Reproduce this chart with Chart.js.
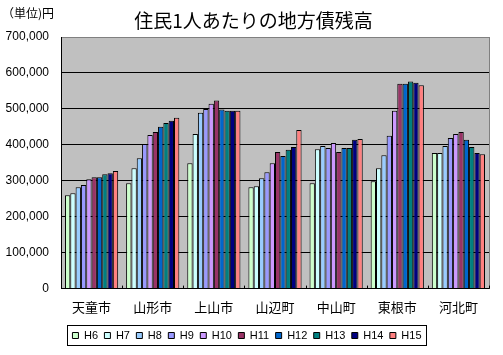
<!DOCTYPE html>
<html>
<head>
<meta charset="utf-8">
<script src="https://cdn.jsdelivr.net/npm/chart.js@4/dist/chart.umd.min.js"></script>
<style>
html,body{margin:0;padding:0;background:#fff;}
#wrap{width:503px;height:355px;}
</style>
</head>
<body>
<div id="wrap"><canvas id="c" width="503" height="355"></canvas></div>
<script>
const categories = ['天童市','山形市','上山市','山辺町','中山町','東根市','河北町'];
const seriesLabels = ['H6','H7','H8','H9','H10','H11','H12','H13','H14','H15'];
const H6  = [260000,293000,349000,282000,293000,299000,377000];
const H7  = [265000,335000,430000,285000,388000,335000,377000];
const H8  = [282000,363000,489000,307000,397000,371000,397000];
const H9  = [288000,402000,500000,324000,391000,425000,419000];
const H10 = [304000,427000,514000,349000,405000,495000,430000];
const H11 = [310000,436000,523000,380000,380000,570000,436000];
const H12 = [310000,450000,498000,369000,391000,570000,414000];
const H13 = [318000,461000,495000,386000,391000,576000,394000];
const H14 = [321000,467000,495000,394000,414000,573000,377000];
const H15 = [327000,475000,495000,441000,416000,566000,374000];
const seriesValues = [H6,H7,H8,H9,H10,H11,H12,H13,H14,H15];
const colors = ['#CCFFCC','#CCFFFF','#99CCFF','#9999FF','#CC99FF','#993366','#0066CC','#008080','#000080','#FF8080'];
const yTicks = [0,100000,200000,300000,400000,500000,600000,700000];
const titleText = '住民1人あたりの地方債残高';
const unitText = '（単位)円';

const latin = "'Liberation Sans', 'Noto Sans CJK JP', sans-serif";
const cjk = "'Noto Sans CJK JP', sans-serif";

const decor = {
  id: 'decor',
  beforeDraw(chart) {
    const {ctx, chartArea: a} = chart;
    ctx.save();
    ctx.fillStyle = '#C0C0C0';
    ctx.fillRect(a.left, a.top, a.right - a.left, a.bottom - a.top);
    ctx.restore();
  },
  afterDraw(chart) {
    const {ctx, chartArea: a} = chart;
    ctx.save();
    ctx.strokeStyle = '#808080';
    ctx.lineWidth = 1;
    ctx.beginPath();
    ctx.moveTo(Math.round(a.right) + 0.5, a.top);
    ctx.lineTo(Math.round(a.right) + 0.5, a.bottom);
    ctx.stroke();
    const xs = chart.scales.x;
    ctx.strokeStyle = '#000';
    for (let i = 0; i <= categories.length; i++) {
      let px;
      if (i === 0) px = a.left; else if (i === categories.length) px = a.right;
      else px = (xs.getPixelForValue(i - 1) + xs.getPixelForValue(i)) / 2;
      px = Math.round(px) + 0.5;
      ctx.beginPath();
      ctx.moveTo(px, a.bottom);
      ctx.lineTo(px, a.bottom - 3);
      ctx.stroke();
    }
    const lg = chart.legend;
    if (lg && lg.legendHitBoxes && lg.legendHitBoxes.length) {
      let l = Infinity, r = -Infinity, t = Infinity, b = -Infinity;
      lg.legendHitBoxes.forEach(h => {
        l = Math.min(l, h.left); r = Math.max(r, h.left + h.width);
        t = Math.min(t, h.top); b = Math.max(b, h.top + h.height);
      });
      ctx.strokeStyle = '#000';
      ctx.lineWidth = 1;
      ctx.strokeRect(Math.round(l - 5) + 0.5, Math.round(t - 5) + 0.5, Math.round(r - l + 10), Math.round(b - t + 9));
    }
    ctx.fillStyle = '#000';
    ctx.textBaseline = 'middle';
    ctx.textAlign = 'center';
    ctx.font = '19px ' + cjk;
    ctx.fillText(titleText, 253.5, 20.5);
    ctx.font = '12px ' + cjk;
    ctx.textAlign = 'left';
    ctx.fillText(unitText, 2, 13);
    ctx.restore();
  }
};

new Chart(document.getElementById('c'), {
  type: 'bar',
  data: {
    labels: categories,
    datasets: seriesLabels.map((s, i) => ({
      label: s,
      data: seriesValues[i],
      backgroundColor: colors[i],
      borderColor: '#000',
      borderWidth: 1,
      categoryPercentage: 0.87,
      barPercentage: 1.0
    }))
  },
  options: {
    responsive: false,
    animation: false,
    devicePixelRatio: 1,
    layout: { padding: { left: 5, right: 14, top: 37, bottom: 4 } },
    plugins: {
      title: { display: false },
      legend: {
        display: true,
        position: 'bottom',
        labels: {
          color: '#000',
          font: { family: latin, size: 11 },
          boxWidth: 6,
          boxHeight: 6,
          padding: 6.4,
          generateLabels(chart) {
            return chart.data.datasets.map((d, i) => ({
              text: d.label,
              fillStyle: d.backgroundColor,
              strokeStyle: '#000',
              lineWidth: 1,
              hidden: false,
              datasetIndex: i,
              fontColor: '#000'
            }));
          }
        }
      },
      tooltip: { enabled: false }
    },
    scales: {
      x: {
        grid: { display: false },
        border: { display: true, color: '#000', width: 1 },
        ticks: { color: '#000', font: { family: cjk, size: 13 }, padding: 3, maxRotation: 0 },
        afterFit(s) { s.height = 35; }
      },
      y: {
        min: 0, max: 700000,
        afterBuildTicks(s) { s.ticks = yTicks.map(v => ({ value: v })); },
        grid: {
          color: c => (c.tick && c.tick.value === 700000) ? '#808080' : '#000',
          drawTicks: false,
          lineWidth: 1
        },
        border: { display: true, color: '#000', width: 1 },
        ticks: {
          color: '#000',
          font: { family: latin, size: 12 },
          padding: 12,
          callback: v => v.toLocaleString('en-US')
        },
        afterFit(s) { s.width = 56; }
      }
    }
  },
  plugins: [decor]
});
</script>
</body>
</html>
